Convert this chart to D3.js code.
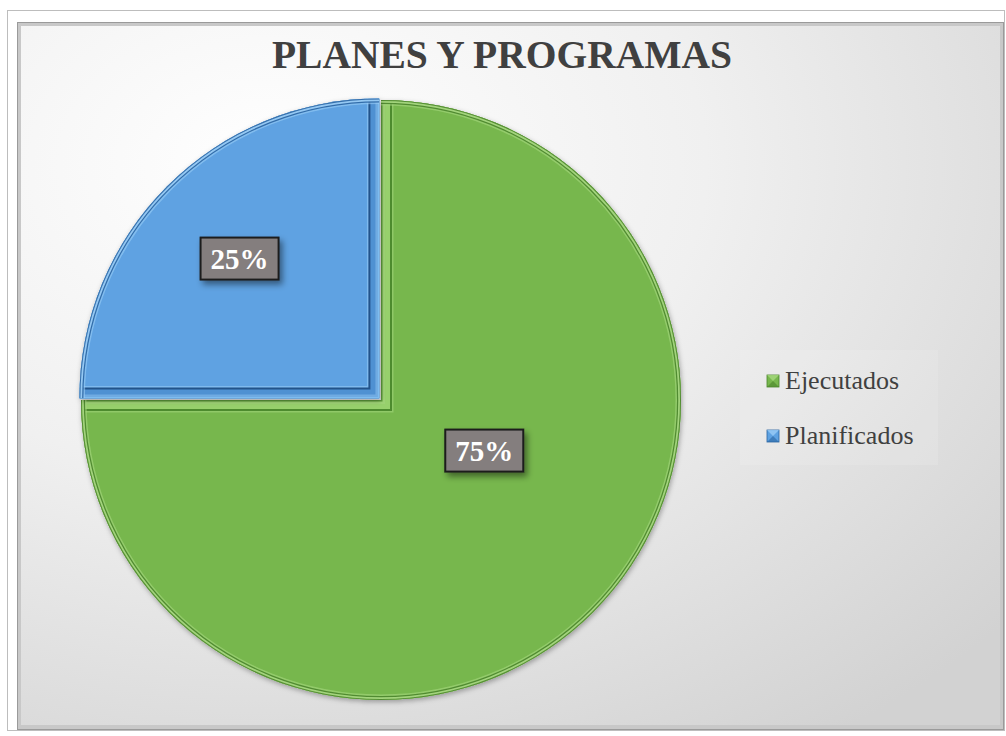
<!DOCTYPE html>
<html>
<head>
<meta charset="utf-8">
<script src="https://cdn.jsdelivr.net/npm/d3@7/dist/d3.min.js"></script>
<style>
  html, body { margin: 0; padding: 0; background: #ffffff; }
  svg { display: block; }
</style>
</head>
<body>
<svg id="chart" width="1006" height="736"></svg>
<script>
// Chart data
const title = "PLANES Y PROGRAMAS";
const categories = ["Ejecutados", "Planificados"];
const values = [75, 25];
const valueLabels = ["75%", "25%"];

const W = 1006, H = 736;
const svg = d3.select("#chart");
const defs = svg.append("defs");

// Palette per category (bevel colours: band = face of the straight-edge bevel, groove = inner line)
const palette = {
  Ejecutados:   { base: "#77b74d", light: "#a6d880", band: "#97d06c", groove: "#4e8b2e", dark: "#4a842b", edge: "#5c9a3a" },
  Planificados: { base: "#5ea2e2", light: "#9acdf7", band: "#4f91d2", groove: "#21528a", dark: "#2a64a2", edge: "#7dbcf0" }
};
const color = d3.scaleOrdinal().domain(categories).range(categories.map(c => palette[c].base));

// ---- Frame and background ----
const bg = defs.append("radialGradient").attr("id", "bgGrad")
  .attr("cx", "0.25").attr("cy", "0.2").attr("r", "1.0");
bg.append("stop").attr("offset", "0").attr("stop-color", "#ffffff");
bg.append("stop").attr("offset", "0.45").attr("stop-color", "#f0f0f0");
bg.append("stop").attr("offset", "1").attr("stop-color", "#d2d2d2");

const frame = { x: 7, y: 10, w: 998, h: 721 };
svg.append("rect")
  .attr("x", frame.x + 0.5).attr("y", frame.y + 0.5)
  .attr("width", frame.w - 1).attr("height", frame.h - 1)
  .attr("fill", "#f4f4f4").attr("stroke", "#bdbdbd");
svg.append("rect")
  .attr("x", frame.x + 1).attr("y", frame.y + 1)
  .attr("width", frame.w - 2).attr("height", frame.h - 2)
  .attr("fill", "#ffffff");
svg.append("rect")
  .attr("x", frame.x + 10).attr("y", frame.y + 12)
  .attr("width", frame.w - 11).attr("height", frame.h - 13)
  .attr("fill", "#9a9a9a");
svg.append("rect")
  .attr("x", frame.x + 11).attr("y", frame.y + 13)
  .attr("width", frame.w - 13).attr("height", frame.h - 15)
  .attr("fill", "#c8c8c8");
svg.append("rect")
  .attr("x", frame.x + 14).attr("y", frame.y + 16)
  .attr("width", frame.w - 19).attr("height", frame.h - 22)
  .attr("fill", "url(#bgGrad)");

// ---- Title ----
svg.append("text")
  .attr("x", 502).attr("y", 68)
  .attr("text-anchor", "middle")
  .attr("font-family", "'Liberation Serif', 'Times New Roman', serif")
  .attr("font-weight", "bold")
  .attr("font-size", 39.5)
  .attr("fill", "#404040")
  .text(title);

// ---- Pie ----
const cx = 381, cy = 400, R = 300;
const pie = d3.pie().sort(null).value(d => d.value);
const arcs = pie(categories.map((c, i) => ({ name: c, value: values[i], label: valueLabels[i] })));
const arc = d3.arc().innerRadius(0).outerRadius(R);

const shadow = defs.append("filter").attr("id", "pieShadow")
  .attr("x", "-10%").attr("y", "-10%").attr("width", "120%").attr("height", "120%");
shadow.append("feDropShadow").attr("dx", 1).attr("dy", 2).attr("stdDeviation", 2.5)
  .attr("flood-color", "#000").attr("flood-opacity", 0.3);

// small separation for the smaller slice
const explode = d => d.data.name === "Planificados" ? 1.6 : 0;

arcs.forEach((d, i) => {
  const p = palette[d.data.name];
  const mid = (d.startAngle + d.endAngle) / 2;
  const off = explode(d) * 1.414;
  const ox = cx + Math.sin(mid) * off, oy = cy - Math.cos(mid) * off;
  const g = svg.append("g").attr("transform", `translate(${ox},${oy})`)
    .attr("filter", "url(#pieShadow)");
  const clipId = "clip" + i;
  defs.append("clipPath").attr("id", clipId).append("path").attr("d", arc(d));

  g.append("path").attr("d", arc(d)).attr("fill", color(d.data.name));

  const bands = g.append("g").attr("clip-path", `url(#${clipId})`);

  // straight edges of the slice
  const p1 = [R * Math.sin(d.startAngle), -R * Math.cos(d.startAngle)];
  const p2 = [R * Math.sin(d.endAngle), -R * Math.cos(d.endAngle)];
  const radial = `M${p1[0]},${p1[1]}L0,0L${p2[0]},${p2[1]}`;
  // curved outer edge
  const rimPath = d3.path();
  rimPath.arc(0, 0, R, d.startAngle - Math.PI / 2, d.endAngle - Math.PI / 2);

  const band = (path, w, c, o) => bands.append("path").attr("d", path)
    .attr("fill", "none").attr("stroke", c).attr("stroke-width", w)
    .attr("stroke-opacity", o).attr("stroke-linejoin", "miter").attr("stroke-miterlimit", 10);

  // wide bevel along the straight edges
  band(radial, 25, p.light, 0.55);
  band(radial, 22, p.groove, 1);
  band(radial, 18, p.band, 1);
  band(radial, 8, p.light, 0.45);
  band(radial, 3, p.edge, 1);

  // narrow bevel along the curved edge
  const rp = rimPath.toString();
  band(rp, 11, p.light, 0.6);
  band(rp, 8, p.dark, 0.9);
  band(rp, 5.5, p.light, 0.95);
  band(rp, 2, p.dark, 0.9);
});

// ---- Value labels ----
const labelShadow = defs.append("filter").attr("id", "labelShadow")
  .attr("x", "-30%").attr("y", "-30%").attr("width", "170%").attr("height", "190%");
labelShadow.append("feDropShadow").attr("dx", 3).attr("dy", 4).attr("stdDeviation", 3)
  .attr("flood-color", "#000").attr("flood-opacity", 0.45);

// label placement: radius and fraction along the slice angle
const labelPlacement = { Ejecutados: { r: 115, t: 0.43 }, Planificados: { r: 200, t: 0.5 } };

arcs.forEach(d => {
  const lp = labelPlacement[d.data.name];
  const a = d.startAngle + (d.endAngle - d.startAngle) * lp.t;
  const x = cx + lp.r * Math.sin(a), y = cy - lp.r * Math.cos(a);
  const bw = 78, bh = 42;
  const lg = svg.append("g").attr("transform", `translate(${x},${y})`);
  lg.append("rect")
    .attr("x", -bw / 2).attr("y", -bh / 2).attr("width", bw).attr("height", bh)
    .attr("fill", "#847e7e").attr("stroke", "#1e1e1e").attr("stroke-width", 2)
    .attr("filter", "url(#labelShadow)");
  lg.append("text")
    .attr("text-anchor", "middle").attr("dy", "0.35em")
    .attr("font-family", "'Liberation Serif', 'Times New Roman', serif")
    .attr("font-weight", "bold").attr("font-size", 29)
    .attr("fill", "#ffffff")
    .text(d.data.label);
});

// ---- Legend ----
const legend = svg.append("g");
legend.append("rect")
  .attr("x", 740).attr("y", 350).attr("width", 198).attr("height", 115)
  .attr("fill", "#ffffff").attr("fill-opacity", 0.12);

const legendY = d3.scalePoint().domain(categories).range([381, 436]);
categories.forEach(c => {
  const p = palette[c];
  const y = legendY(c);
  const s = 12;
  const gg = legend.append("g").attr("transform", `translate(767,${y - s / 2})`);
  gg.append("rect").attr("width", s).attr("height", s).attr("fill", p.base).attr("stroke", p.dark).attr("stroke-width", 0.8);
  gg.append("path").attr("d", `M0,0 L${s},0 L${s / 2},${s / 2} Z`).attr("fill", p.light).attr("opacity", 0.8);
  gg.append("path").attr("d", `M0,${s} L${s},${s} L${s / 2},${s / 2} Z`).attr("fill", p.dark).attr("opacity", 0.6);
  legend.append("text")
    .attr("x", 785).attr("y", y + 8)
    .attr("font-family", "'Liberation Serif', 'Times New Roman', serif")
    .attr("font-size", 26)
    .attr("fill", "#404040")
    .text(c);
});
</script>
</body>
</html>
